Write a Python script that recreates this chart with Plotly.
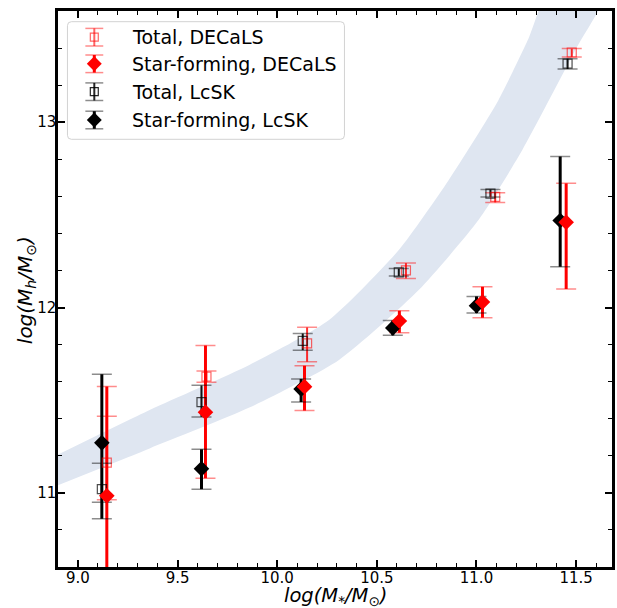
import plotly.graph_objects as go

# ---------------- data ----------------
# Star-forming, LcSK
x_sf_lcsk = [9.12, 9.62, 10.12, 10.58, 11.00, 11.42]
y_sf_lcsk = [11.27, 11.13, 11.56, 11.89, 12.01, 12.47]
eu_sf_lcsk = [0.37, 0.105, 0.055, 0.04, 0.05, 0.345]
ed_sf_lcsk = [0.41, 0.11, 0.07, 0.04, 0.04, 0.25]

# Star-forming, DECaLS
x_sf_dec = [9.145, 9.64, 10.137, 10.613, 11.03, 11.45]
y_sf_dec = [10.984, 11.435, 11.573, 11.927, 12.03, 12.46]
eu_sf_dec = [0.59, 0.36, 0.113, 0.056, 0.082, 0.21]
ed_sf_dec = [0.59, 0.356, 0.129, 0.063, 0.085, 0.36]

# Total, LcSK
x_tot_lcsk = [9.12, 9.62, 10.128, 10.61, 11.07, 11.457]
y_tot_lcsk = [11.02, 11.49, 11.82, 12.19, 12.615, 13.316]
eu_tot_lcsk = [0.14, 0.09, 0.04, 0.02, 0.022, 0.027]
ed_tot_lcsk = [0.07, 0.08, 0.05, 0.02, 0.018, 0.029]

# Total, DECaLS
x_tot_dec = [9.145, 9.645, 10.15, 10.646, 11.094, 11.478]
y_tot_dec = [11.163, 11.627, 11.807, 12.20, 12.597, 13.376]
eu_tot_dec = [0.25, 0.03, 0.086, 0.04, 0.023, 0.021]
ed_tot_dec = [0.20, 0.03, 0.10, 0.043, 0.03, 0.024]

# shaded relation band (upper and lower edges)
band_hi_x = [8.85, 9.36, 9.86, 10.26, 10.61, 10.86, 11.11, 11.26, 11.37]
band_hi_y = [11.18, 11.447, 11.69, 11.933, 12.31, 12.687, 13.119, 13.449, 13.72]
band_lo_x = [8.85, 9.36, 9.86, 10.31, 10.71, 11.01, 11.23, 11.495, 11.67]
band_lo_y = [11.02, 11.24, 11.46, 11.717, 12.094, 12.472, 12.85, 13.388, 13.75]

legend_labels = ["Total, DECaLS", "Star-forming, DECaLS", "Total, LcSK", "Star-forming, LcSK"]

x_ticks = [9.0, 9.5, 10.0, 10.5, 11.0, 11.5]
y_ticks = [11, 12, 13]

# ---------------- styles ----------------
RED = "rgb(255,0,0)"
PINK = "rgba(255,0,0,0.45)"
GRAY = "rgba(0,0,0,0.45)"
BAND = "rgb(223,230,241)"
FONT = "DejaVu Sans"

fig = go.Figure()

fig.add_trace(go.Scatter(
    x=band_hi_x + band_lo_x[::-1], y=band_hi_y + band_lo_y[::-1],
    fill="toself", fillcolor=BAND, line=dict(width=0, shape="spline", smoothing=0.6),
    mode="lines", hoverinfo="skip", showlegend=False))

series = [
    (x_tot_dec, y_tot_dec, eu_tot_dec, ed_tot_dec, PINK, "rgba(255,0,0,0.7)", 2),
    (x_sf_dec, y_sf_dec, eu_sf_dec, ed_sf_dec, PINK, RED, 3),
    (x_tot_lcsk, y_tot_lcsk, eu_tot_lcsk, ed_tot_lcsk, GRAY, "rgba(0,0,0,0.85)", 2),
    (x_sf_lcsk, y_sf_lcsk, eu_sf_lcsk, ed_sf_lcsk, GRAY, "black", 3),
]
for xs, ys, eu, ed, capc, linec, lw in series:
    fig.add_trace(go.Scatter(
        x=xs, y=ys, mode="markers", marker=dict(size=1, opacity=0),
        error_y=dict(type="data", symmetric=False, array=eu, arrayminus=ed,
                     color=capc, thickness=1.5, width=10),
        showlegend=False, hoverinfo="skip"))
    fig.add_trace(go.Scatter(
        x=xs, y=ys, mode="markers", marker=dict(size=1, opacity=0),
        error_y=dict(type="data", symmetric=False, array=eu, arrayminus=ed,
                     color=linec, thickness=lw, width=0),
        showlegend=False, hoverinfo="skip"))

fig.add_trace(go.Scatter(x=x_tot_dec, y=y_tot_dec, mode="markers",
    marker=dict(symbol="square-open", size=9, color="rgba(255,0,0,0.6)", line=dict(width=1.2)),
    showlegend=False))
fig.add_trace(go.Scatter(x=x_tot_lcsk, y=y_tot_lcsk, mode="markers",
    marker=dict(symbol="square-open", size=9, color="rgba(0,0,0,0.7)", line=dict(width=1.2)),
    showlegend=False))
fig.add_trace(go.Scatter(x=x_sf_lcsk, y=y_sf_lcsk, mode="markers",
    marker=dict(symbol="diamond", size=12, color="black", line=dict(width=0)),
    showlegend=False))
fig.add_trace(go.Scatter(x=x_sf_dec, y=y_sf_dec, mode="markers",
    marker=dict(symbol="diamond", size=12, color=RED, line=dict(width=0)),
    showlegend=False))

# ---------------- manual legend ----------------
PL, PR, PT, PB = 58, 615, 11, 567
def px(v): return (v - PL) / (PR - PL)
def py(v): return (PB - v) / (PB - PT)

shapes = []
bx0, by0, bx1, by1, r = 67.5, 21.7, 346, 139.3, 4
path = (f"M {px(bx0+r)},{py(by0)} L {px(bx1-r)},{py(by0)} "
        f"Q {px(bx1)},{py(by0)} {px(bx1)},{py(by0+r)} L {px(bx1)},{py(by1-r)} "
        f"Q {px(bx1)},{py(by1)} {px(bx1-r)},{py(by1)} L {px(bx0+r)},{py(by1)} "
        f"Q {px(bx0)},{py(by1)} {px(bx0)},{py(by1-r)} L {px(bx0)},{py(by0+r)} "
        f"Q {px(bx0)},{py(by0)} {px(bx0+r)},{py(by0)} Z")
shapes.append(dict(type="path", xref="paper", yref="paper", path=path,
                   fillcolor="rgba(255,255,255,0.8)", line=dict(color="rgb(210,210,210)", width=1),
                   layer="above"))

row_y = [37.2, 63.8, 91.7, 120.0]
sx = 94.5
row_styles = [
    ("sq", "rgba(255,0,0,0.6)", 2, PINK),
    ("di", RED, 3, PINK),
    ("sq", "rgba(0,0,0,0.85)", 2, GRAY),
    ("di", "black", 3, GRAY),
]
annotations = []
for yc, (kind, lc, lw, capc), lab in zip(row_y, row_styles, legend_labels):
    h, cw = 8.8, 9
    for yy in (yc - h, yc + h):
        shapes.append(dict(type="line", xref="paper", yref="paper",
                           x0=px(sx - cw), x1=px(sx + cw), y0=py(yy), y1=py(yy),
                           line=dict(color=capc, width=1.5), layer="above"))
    shapes.append(dict(type="line", xref="paper", yref="paper",
                       x0=px(sx), x1=px(sx), y0=py(yc - h), y1=py(yc + h),
                       line=dict(color=lc, width=lw), layer="above"))
    if kind == "sq":
        s = 4
        shapes.append(dict(type="rect", xref="paper", yref="paper",
                           x0=px(sx - s), x1=px(sx + s), y0=py(yc - s), y1=py(yc + s),
                           line=dict(color=lc, width=1.2), fillcolor="rgba(0,0,0,0)", layer="above"))
    else:
        d = 7.5
        p = (f"M {px(sx)},{py(yc-d)} L {px(sx+d)},{py(yc)} L {px(sx)},{py(yc+d)} "
             f"L {px(sx-d)},{py(yc)} Z")
        shapes.append(dict(type="path", xref="paper", yref="paper", path=p,
                           fillcolor=lc, line=dict(width=0), layer="above"))
    annotations.append(dict(xref="paper", yref="paper", x=px(130), y=py(yc),
                            xanchor="left", yanchor="middle", showarrow=False,
                            text=lab, font=dict(family=FONT, size=19, color="black")))

# axis titles
annotations.append(dict(xref="paper", yref="paper", x=px(337), y=py(596.5),
                        xanchor="center", yanchor="middle", showarrow=False,
                        text="<i>log(M<sub>*</sub>/M<sub>⊙</sub>)</i>",
                        font=dict(family=FONT, size=19.5, color="black")))
annotations.append(dict(xref="paper", yref="paper", x=px(26), y=py(290),
                        xanchor="center", yanchor="middle", showarrow=False, textangle=-90,
                        text="<i>log(M<sub>h</sub>/M<sub>⊙</sub>)</i>",
                        font=dict(family=FONT, size=20, color="black")))

axis_common = dict(showgrid=False, zeroline=False, showline=True, linecolor="black",
                   linewidth=2.5, mirror="allticks", ticks="inside", ticklen=7,
                   tickwidth=1.5, tickcolor="black",
                   tickfont=dict(family=FONT, size=15, color="black"))

fig.update_layout(
    width=617, height=608,
    margin=dict(l=PL, r=617 - PR, t=PT, b=608 - PB),
    paper_bgcolor="white", plot_bgcolor="white",
    xaxis=dict(range=[8.9, 11.68], tickvals=x_ticks, ticktext=[f"{v:.1f}" for v in x_ticks],
               ticklabelstandoff=-5,
               minor=dict(dtick=0.1, tick0=9.0, ticks="inside", ticklen=4, tickwidth=1,
                          tickcolor="black"),
               **axis_common),
    yaxis=dict(range=[10.6, 13.6], tickvals=y_ticks, ticktext=[str(v) for v in y_ticks],
               ticklabelstandoff=-4,
               minor=dict(dtick=0.2, tick0=11, ticks="inside", ticklen=4, tickwidth=1,
                          tickcolor="black"),
               **axis_common),
    shapes=shapes, annotations=annotations, showlegend=False,
)

fig.write_html("out.html")
